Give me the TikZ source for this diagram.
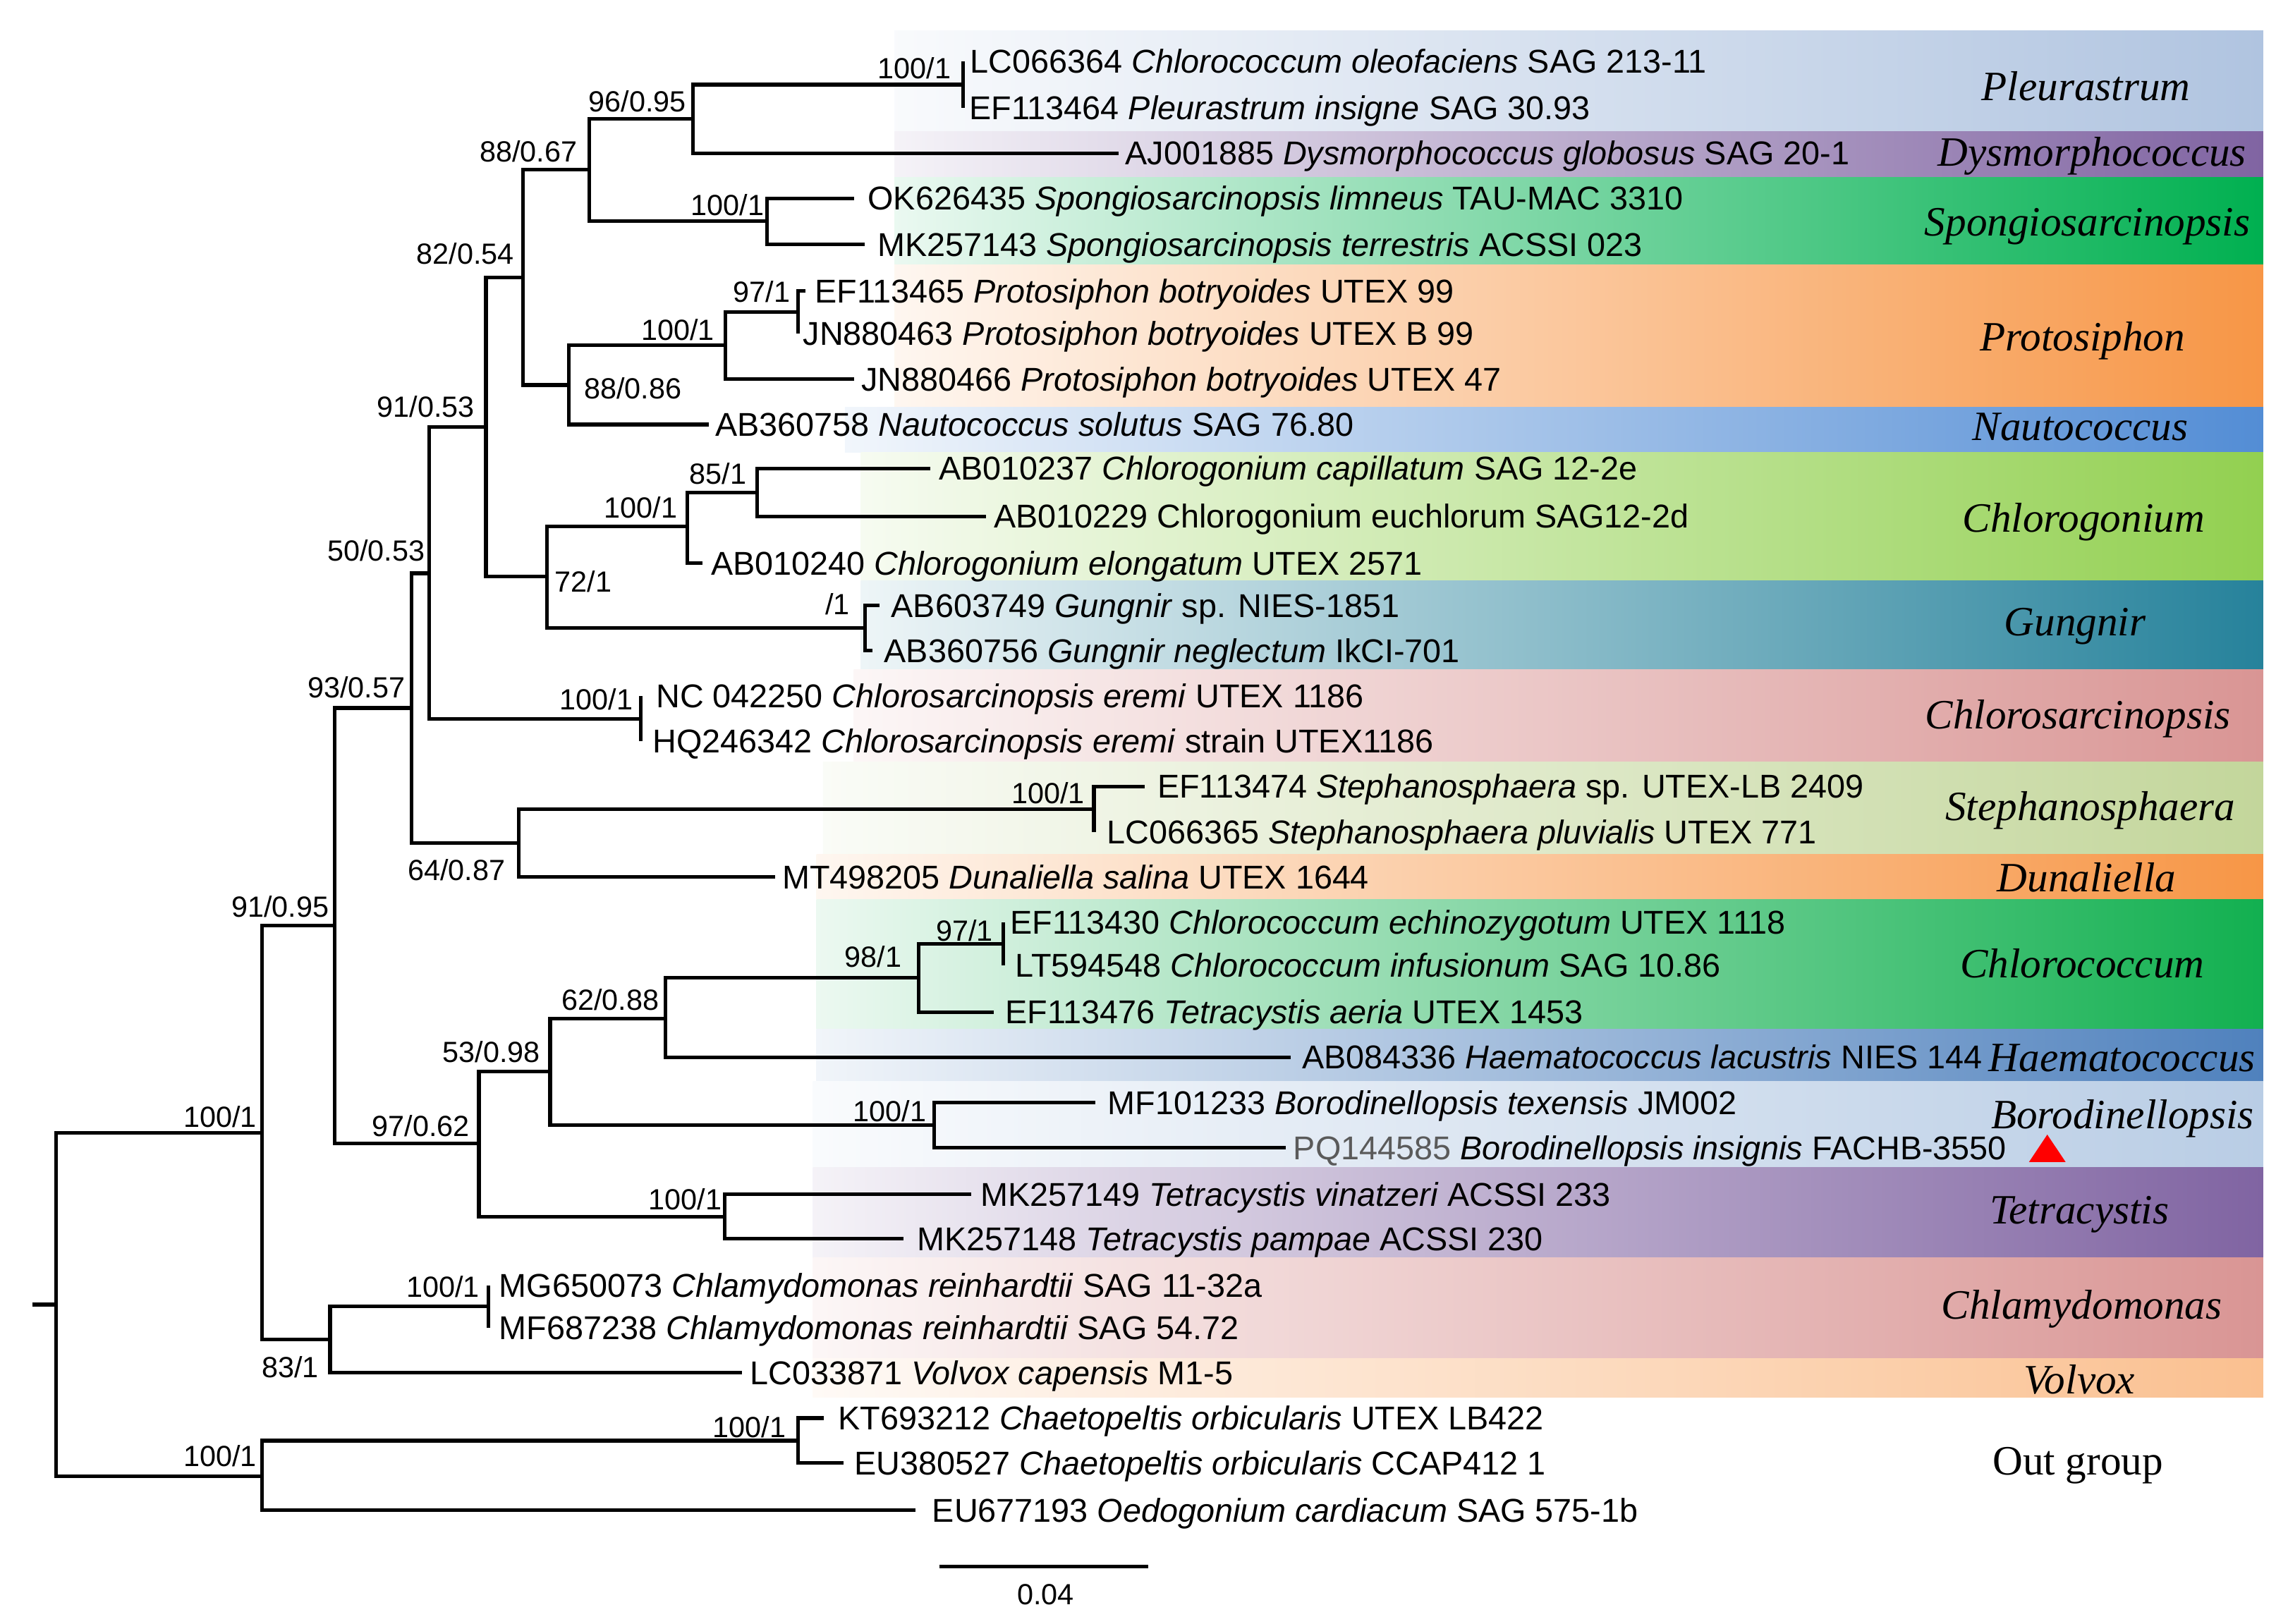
\documentclass[tikz,border=0pt]{standalone}
\usepackage{fontspec}
\setmainfont{Liberation Sans}
\newfontfamily\cladefont{Liberation Serif}
\usepackage{xcolor}
\usetikzlibrary{positioning}
\definecolor{cpleu}{RGB}{176,196,224}
\definecolor{cdysm}{RGB}{128,100,162}
\definecolor{cspon}{RGB}{0,176,80}
\definecolor{cprot}{RGB}{247,150,70}
\definecolor{cnaut}{RGB}{83,141,213}
\definecolor{cchlg}{RGB}{146,208,80}
\definecolor{cgung}{RGB}{38,130,155}
\definecolor{ccsar}{RGB}{217,149,148}
\definecolor{cstep}{RGB}{195,214,155}
\definecolor{cduna}{RGB}{247,150,70}
\definecolor{cchlc}{RGB}{18,176,80}
\definecolor{chaem}{RGB}{79,129,189}
\definecolor{cboro}{RGB}{185,205,229}
\definecolor{ctetr}{RGB}{128,100,162}
\definecolor{cchla}{RGB}{217,149,148}
\definecolor{cvolv}{RGB}{250,192,144}
\definecolor{accgray}{RGB}{90,90,90}

\begin{document}
\begin{tikzpicture}[x=0.5pt,y=-0.5pt]
  \tikzstyle{tree line}=[line width=1.25pt]
  \tikzstyle{taxon node}=[anchor=west,inner sep=0pt,text height=8pt,text depth=0pt,font=\fontsize{11.3}{13}\selectfont]
  \tikzstyle{sup node}=[anchor=base east,inner sep=0pt,font=\fontsize{10}{12}\selectfont]
  \tikzstyle{clade node}=[anchor=base,inner sep=0pt,font=\cladefont\itshape\fontsize{14.3}{16}\selectfont]
  \useasboundingbox (0,0) rectangle (1568,1112.7);
  % bands
  \shade[left color=cpleu!8!white,right color=cpleu] (613,21) rectangle (1551,90);
  \shade[left color=cdysm!8!white,right color=cdysm] (613,90) rectangle (1551,121.5);
  \shade[left color=cspon!8!white,right color=cspon] (613,121.5) rectangle (1551,181.5);
  \shade[left color=cprot!8!white,right color=cprot] (613,181.5) rectangle (1551,279);
  \shade[left color=cnaut!8!white,right color=cnaut] (579,279) rectangle (1551,310);
  \shade[left color=cchlg!8!white,right color=cchlg] (590,310) rectangle (1551,398);
  \shade[left color=cgung!8!white,right color=cgung] (590,398) rectangle (1551,459);
  \shade[left color=ccsar!8!white,right color=ccsar] (585,459) rectangle (1551,522.5);
  \shade[left color=cstep!8!white,right color=cstep] (564,522.5) rectangle (1551,585.5);
  \shade[left color=cduna!8!white,right color=cduna] (559.5,585.5) rectangle (1551,616.5);
  \shade[left color=cchlc!8!white,right color=cchlc] (559.5,616.5) rectangle (1551,705.5);
  \shade[left color=chaem!8!white,right color=chaem] (559.5,705.5) rectangle (1551,741);
  \shade[left color=cboro!8!white,right color=cboro] (557,741) rectangle (1551,800.4);
  \shade[left color=ctetr!8!white,right color=ctetr] (557,800.4) rectangle (1551,862);
  \shade[left color=cchla!8!white,right color=cchla] (557,862) rectangle (1551,931);
  \shade[left color=cvolv!8!white,right color=cvolv] (557,931) rectangle (1551,957.7);
  % inner nodes
  \coordinate (stub) at (22,894.2);
  \coordinate (root) at (38.3,894.2);
  \coordinate (in) at (179.7,776.5);
  \coordinate (og) at (179.7,1011.8);
  \coordinate (n9195) at (229.2,634.5);
  \coordinate (n8301) at (226.2,918.3);
  \coordinate (n9357) at (282,485.3);
  \coordinate (n9762) at (328.2,783.8);
  \coordinate (n5053) at (294,393);
  \coordinate (n6487) at (355.4,577.8);
  \coordinate (n9153) at (333,292.6);
  \coordinate (n8254) at (358.4,190.2);
  \coordinate (n8867) at (404,116.4);
  \coordinate (n9695) at (474.7,81.4);
  \coordinate (pleu) at (659.9,58);
  \coordinate (spon) at (525.6,151.6);
  \coordinate (n8886) at (390,263.9);
  \coordinate (prot) at (497,236.5);
  \coordinate (n9701) at (547,214);
  \coordinate (n7201) at (374.7,395.3);
  \coordinate (chlg) at (471,361);
  \coordinate (n8501) at (519,337.5);
  \coordinate (gung) at (592.7,430.5);
  \coordinate (csar) at (439,492.6);
  \coordinate (step) at (749.7,554.8);
  \coordinate (n5398) at (377,734.4);
  \coordinate (n6288) at (456,698);
  \coordinate (n9801) at (629.4,670.3);
  \coordinate (chlc) at (687.7,646.9);
  \coordinate (boro) at (640.2,771.3);
  \coordinate (tetr) at (496.8,833.9);
  \coordinate (chla) at (334.7,895.6);
  \coordinate (chae) at (547,987.5);
  % tips
  \coordinate (t01) at (659.9,42);
  \coordinate (t02) at (659.9,74);
  \coordinate (t03) at (766.7,105);
  \coordinate (t04) at (585.3,136);
  \coordinate (t05) at (592.7,167.5);
  \coordinate (t06) at (552,199.5);
  \coordinate (t07) at (547,228.5);
  \coordinate (t08) at (585.3,260);
  \coordinate (t09) at (485.6,291);
  \coordinate (t10) at (637.5,321);
  \coordinate (t11) at (675.8,354);
  \coordinate (t12) at (481.5,386);
  \coordinate (t13) at (602.9,415);
  \coordinate (t14) at (597.8,446);
  \coordinate (t15) at (439,477);
  \coordinate (t16) at (439,508);
  \coordinate (t17) at (784.3,539);
  \coordinate (t18) at (749.7,570.5);
  \coordinate (t19) at (531,601.2);
  \coordinate (t20) at (687.7,632);
  \coordinate (t21) at (687.7,661.7);
  \coordinate (t22) at (680.9,693.7);
  \coordinate (t23) at (884.4,724.6);
  \coordinate (t24) at (750.4,755.9);
  \coordinate (t25) at (881,786.7);
  \coordinate (t26) at (665.6,818.7);
  \coordinate (t27) at (619.2,849);
  \coordinate (t28) at (334.7,881);
  \coordinate (t29) at (334.7,910);
  \coordinate (t30) at (508.6,941);
  \coordinate (t31) at (564.6,972);
  \coordinate (t32) at (578,1002.7);
  \coordinate (t33) at (627.3,1035.2);
  % branches
  \draw[tree line] (stub) -- (root);
  \draw[tree line] (root) |- (in);
  \draw[tree line] (root) |- (og);
  \draw[tree line] (in) |- (n9195);
  \draw[tree line] (in) |- (n8301);
  \draw[tree line] (n9195) |- (n9357);
  \draw[tree line] (n9195) |- (n9762);
  \draw[tree line] (n9357) |- (n5053);
  \draw[tree line] (n9357) |- (n6487);
  \draw[tree line] (n5053) |- (n9153);
  \draw[tree line] (n5053) |- (csar);
  \draw[tree line] (n9153) |- (n8254);
  \draw[tree line] (n9153) |- (n7201);
  \draw[tree line] (n8254) |- (n8867);
  \draw[tree line] (n8254) |- (n8886);
  \draw[tree line] (n8867) |- (n9695);
  \draw[tree line] (n8867) |- (spon);
  \draw[tree line] (n9695) |- (pleu);
  \draw[tree line] (n9695) |- (t03);
  \draw[tree line] (pleu) |- (t01);
  \draw[tree line] (pleu) |- (t02);
  \draw[tree line] (spon) |- (t04);
  \draw[tree line] (spon) |- (t05);
  \draw[tree line] (n8886) |- (prot);
  \draw[tree line] (n8886) |- (t09);
  \draw[tree line] (prot) |- (n9701);
  \draw[tree line] (prot) |- (t08);
  \draw[tree line] (n9701) |- (t06);
  \draw[tree line] (n9701) |- (t07);
  \draw[tree line] (n7201) |- (chlg);
  \draw[tree line] (n7201) |- (gung);
  \draw[tree line] (chlg) |- (n8501);
  \draw[tree line] (chlg) |- (t12);
  \draw[tree line] (n8501) |- (t10);
  \draw[tree line] (n8501) |- (t11);
  \draw[tree line] (gung) |- (t13);
  \draw[tree line] (gung) |- (t14);
  \draw[tree line] (csar) |- (t15);
  \draw[tree line] (csar) |- (t16);
  \draw[tree line] (n6487) |- (step);
  \draw[tree line] (n6487) |- (t19);
  \draw[tree line] (step) |- (t17);
  \draw[tree line] (step) |- (t18);
  \draw[tree line] (n9762) |- (n5398);
  \draw[tree line] (n9762) |- (tetr);
  \draw[tree line] (n5398) |- (n6288);
  \draw[tree line] (n5398) |- (boro);
  \draw[tree line] (n6288) |- (n9801);
  \draw[tree line] (n6288) |- (t23);
  \draw[tree line] (n9801) |- (chlc);
  \draw[tree line] (n9801) |- (t22);
  \draw[tree line] (chlc) |- (t20);
  \draw[tree line] (chlc) |- (t21);
  \draw[tree line] (boro) |- (t24);
  \draw[tree line] (boro) |- (t25);
  \draw[tree line] (tetr) |- (t26);
  \draw[tree line] (tetr) |- (t27);
  \draw[tree line] (n8301) |- (chla);
  \draw[tree line] (n8301) |- (t30);
  \draw[tree line] (chla) |- (t28);
  \draw[tree line] (chla) |- (t29);
  \draw[tree line] (og) |- (chae);
  \draw[tree line] (og) |- (t33);
  \draw[tree line] (chae) |- (t31);
  \draw[tree line] (chae) |- (t32);
  % taxa
  \node[taxon node,right=2.35pt of t01] (lc066364) {LC066364 \textit{Chlorococcum oleofaciens} SAG 213-11};
  \node[taxon node,right=2.05pt of t02] (ef113464) {EF113464 \textit{Pleurastrum insigne} SAG 30.93};
  \node[taxon node,right=2.05pt of t03] (aj001885) {AJ001885 \textit{Dysmorphococcus globosus} SAG 20-1};
  \node[taxon node,right=4.55pt of t04] (ok626435) {OK626435 \textit{Spongiosarcinopsis limneus} TAU-MAC 3310};
  \node[taxon node,right=4.25pt of t05] (mk257143) {MK257143 \textit{Spongiosarcinopsis terrestris} ACSSI 023};
  \node[taxon node,right=3.05pt of t06] (ef113465) {EF113465 \textit{Protosiphon botryoides} UTEX 99};
  \node[taxon node,right=1.5pt of t07] (jn880463) {JN880463 \textit{Protosiphon botryoides} UTEX B 99};
  \node[taxon node,right=2.35pt of t08] (jn880466) {JN880466 \textit{Protosiphon botryoides} UTEX 47};
  \node[taxon node,right=2.2pt of t09] (ab360758) {AB360758 \textit{Nautococcus solutus} SAG 76.80};
  \node[taxon node,right=2.75pt of t10] (ab010237) {AB010237 \textit{Chlorogonium capillatum} SAG 12-2e};
  \node[taxon node,right=2.55pt of t11] (ab010229) {AB010229 Chlorogonium euchlorum SAG12-2d};
  \node[taxon node,right=2.75pt of t12] (ab010240) {AB010240 \textit{Chlorogonium elongatum} UTEX 2571};
  \node[taxon node,right=3.75pt of t13] (ab603749) {AB603749 \textit{Gungnir} sp. NIES-1851};
  \node[taxon node,right=3.9pt of t14] (ab360756) {AB360756 \textit{Gungnir neglectum} IkCI-701};
  \node[taxon node,right=5.15pt of t15] (nc042250) {NC 042250 \textit{Chlorosarcinopsis eremi} UTEX 1186};
  \node[taxon node,right=4pt of t16] (hq246342) {HQ246342 \textit{Chlorosarcinopsis eremi} strain UTEX1186};
  \node[taxon node,right=4.25pt of t17] (ef113474) {EF113474 \textit{Stephanosphaera} sp. UTEX-LB 2409};
  \node[taxon node,right=4.25pt of t18] (lc066365) {LC066365 \textit{Stephanosphaera pluvialis} UTEX 771};
  \node[taxon node,right=2.4pt of t19] (mt498205) {MT498205 \textit{Dunaliella salina} UTEX 1644};
  \node[taxon node,right=2.15pt of t20] (ef113430) {EF113430 \textit{Chlorococcum echinozygotum} UTEX 1118};
  \node[taxon node,right=3.9pt of t21] (lt594548) {LT594548 \textit{Chlorococcum infusionum} SAG 10.86};
  \node[taxon node,right=3.9pt of t22] (ef113476) {EF113476 \textit{Tetracystis aeria} UTEX 1453};
  \node[taxon node,right=3.8pt of t23] (ab084336) {AB084336 \textit{Haematococcus lacustris} NIES 144};
  \node[taxon node,right=4.25pt of t24] (mf101233) {MF101233 \textit{Borodinellopsis texensis} JM002};
  \node[taxon node,right=2.5pt of t25] (pq144585) {\textcolor{accgray}{PQ144585} \textit{Borodinellopsis insignis} FACHB-3550};
  \node[taxon node,right=3.05pt of t26] (mk257149) {MK257149 \textit{Tetracystis vinatzeri} ACSSI 233};
  \node[taxon node,right=4.55pt of t27] (mk257148) {MK257148 \textit{Tetracystis pampae} ACSSI 230};
  \node[taxon node,right=3.55pt of t28] (mg650073) {MG650073 \textit{Chlamydomonas reinhardtii} SAG 11-32a};
  \node[taxon node,right=3.55pt of t29] (mf687238) {MF687238 \textit{Chlamydomonas reinhardtii} SAG 54.72};
  \node[taxon node,right=2.55pt of t30] (lc033871) {LC033871 \textit{Volvox capensis} M1-5};
  \node[taxon node,right=4.7pt of t31] (kt693212) {KT693212 \textit{Chaetopeltis orbicularis} UTEX LB422};
  \node[taxon node,right=3.65pt of t32] (eu380527) {EU380527 \textit{Chaetopeltis orbicularis} CCAP412 1};
  \node[taxon node,right=5.6pt of t33] (eu677193) {EU677193 \textit{Oedogonium cardiacum} SAG 575-1b};
  \fill[red] (1403,777.7) -- (1390.5,796.5) -- (1415.6,796.5) -- cycle;
  % support values
  \node[sup node] (s-pleu) at (652,54) {100/1};
  \node[sup node] (s9695) at (470.7,76.4) {96/0.95};
  \node[sup node] (s8867) at (396,111) {88/0.67};
  \node[sup node] (s-spon) at (524,147.5) {100/1};
  \node[sup node] (s8254) at (352.7,181) {82/0.54};
  \node[sup node] (s9701) at (542,207) {97/1};
  \node[sup node] (s-prot) at (490,233) {100/1};
  \node[sup node,anchor=base west] (s8886) at (400,273.2) {88/0.86};
  \node[sup node] (s9153) at (325.5,286) {91/0.53};
  \node[sup node] (s8501) at (512,331.7) {85/1};
  \node[sup node] (s-chlg) at (464.6,355.1) {100/1};
  \node[sup node] (s5053) at (291.6,384.7) {50/0.53};
  \node[sup node,anchor=base west] (s7201) at (379.8,405.9) {72/1};
  \node[sup node] (s-gung) at (582.6,421.2) {/1};
  \node[sup node] (s-csar) at (434,486.6) {100/1};
  \node[sup node] (s9357) at (278,478.4) {93/0.57};
  \node[sup node] (s-step) at (743.6,550.7) {100/1};
  \node[sup node] (s6487) at (346.6,603.7) {64/0.87};
  \node[sup node] (s9195) at (225.8,628.4) {91/0.95};
  \node[sup node] (s-chlc) at (680.9,645.1) {97/1};
  \node[sup node] (s9801) at (618.2,662.9) {98/1};
  \node[sup node] (s6288) at (452,692.5) {62/0.88};
  \node[sup node] (s5398) at (370.6,728.3) {53/0.98};
  \node[sup node] (s-boro) at (635.1,768.9) {100/1};
  \node[sup node] (s-in) at (176.3,772.6) {100/1};
  \node[sup node] (s9762) at (322.1,779) {97/0.62};
  \node[sup node] (s-tetr) at (495,829.1) {100/1};
  \node[sup node] (s-chla) at (329,889.1) {100/1};
  \node[sup node] (s8301) at (218.7,944.3) {83/1};
  \node[sup node] (s-chae) at (539,985.4) {100/1};
  \node[sup node] (s-og) at (176.3,1004.9) {100/1};
  % clades
  \node[clade node] (pleurastrum) at (1429.5,69) {Pleurastrum};
  \node[clade node] (dysmorphococcus) at (1433.8,114) {Dysmorphococcus};
  \node[clade node] (spongiosarcinopsis) at (1430.5,161.5) {Spongiosarcinopsis};
  \node[clade node] (protosiphon) at (1427.2,240.4) {Protosiphon};
  \node[clade node] (nautococcus) at (1425.7,302) {Nautococcus};
  \node[clade node] (chlorogonium) at (1428,364.5) {Chlorogonium};
  \node[clade node] (gungnir) at (1422,435.5) {Gungnir};
  \node[clade node] (chlorosarcinopsis) at (1424,499.6) {Chlorosarcinopsis};
  \node[clade node] (stephanosphaera) at (1432.5,562.3) {Stephanosphaera};
  \node[clade node] (dunaliella) at (1430,611.1) {Dunaliella};
  \node[clade node] (chlorococcum) at (1427,670.3) {Chlorococcum};
  \node[clade node,anchor=base east] (haematococcus) at (1546,734.4) {Haematococcus};
  \node[clade node,anchor=base east] (borodinellopsis) at (1545,773.8) {Borodinellopsis};
  \node[clade node] (tetracystis) at (1425,838.7) {Tetracystis};
  \node[clade node] (chlamydomonas) at (1426.7,904.2) {Chlamydomonas};
  \node[clade node] (volvox) at (1425,955.1) {Volvox};
  \node[clade node] (outgroup) at (1424,1010.9) {\upshape Out group};
  % scale bar
  \coordinate (bar-l) at (643.6,1073.7);
  \coordinate (bar-r) at (786.7,1073.7);
  \draw[tree line] (bar-l) -- (bar-r);
  \node[sup node,anchor=base] (scale) at (716.5,1100) {0.04};
\end{tikzpicture}
\end{document}
